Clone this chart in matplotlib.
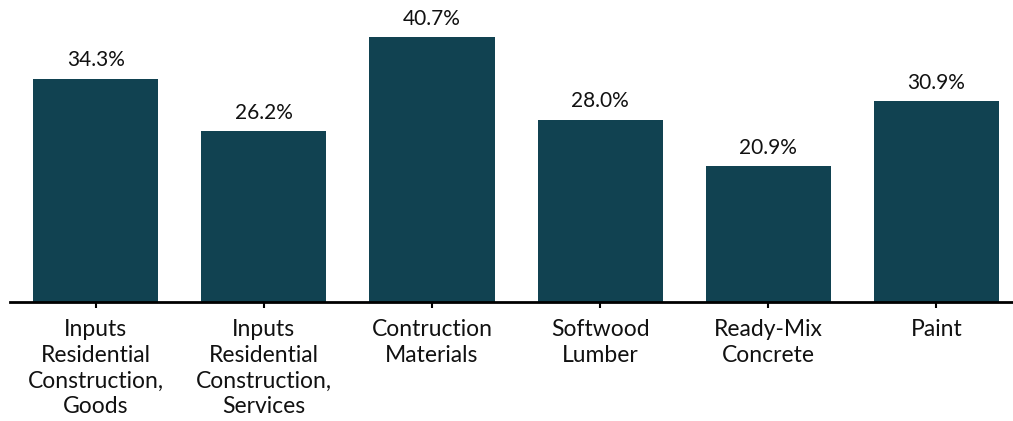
import matplotlib.pyplot as plt

categories = ["Inputs\nResidential\nConstruction,\nGoods",
              "Inputs\nResidential\nConstruction,\nServices",
              "Contruction\nMaterials",
              "Softwood\nLumber",
              "Ready-Mix\nConcrete",
              "Paint"]
values = [34.3, 26.2, 40.7, 28.0, 20.9, 30.9]

plt.rcParams['font.family'] = ['Lato', 'DejaVu Sans']

fig = plt.figure(figsize=(10.13, 4.21), dpi=100)
ax = fig.add_axes([0.0099, 0.2827, 0.9901, 0.7173])

x = list(range(len(values)))
bars = ax.bar(x, values, width=0.744, color='#114251')

for xi, v in zip(x, values):
    ax.annotate(f"{v:.1f}%", (xi, v), xytext=(0, 6), textcoords='offset points',
                ha='center', va='bottom', fontsize=15, color='#111111')

ax.set_xlim(-0.509, 5.455)
ax.set_ylim(0, 46.4)
ax.set_xticks(x)
ax.set_xticklabels(categories, fontsize=16.5, color='#111111', linespacing=1.29)
ax.tick_params(axis='x', length=4, width=1.5, color='black', pad=8)
ax.set_yticks([])

for s in ['top', 'right', 'left']:
    ax.spines[s].set_visible(False)
ax.spines['bottom'].set_linewidth(2)

fig.savefig('out.png', dpi=100)
